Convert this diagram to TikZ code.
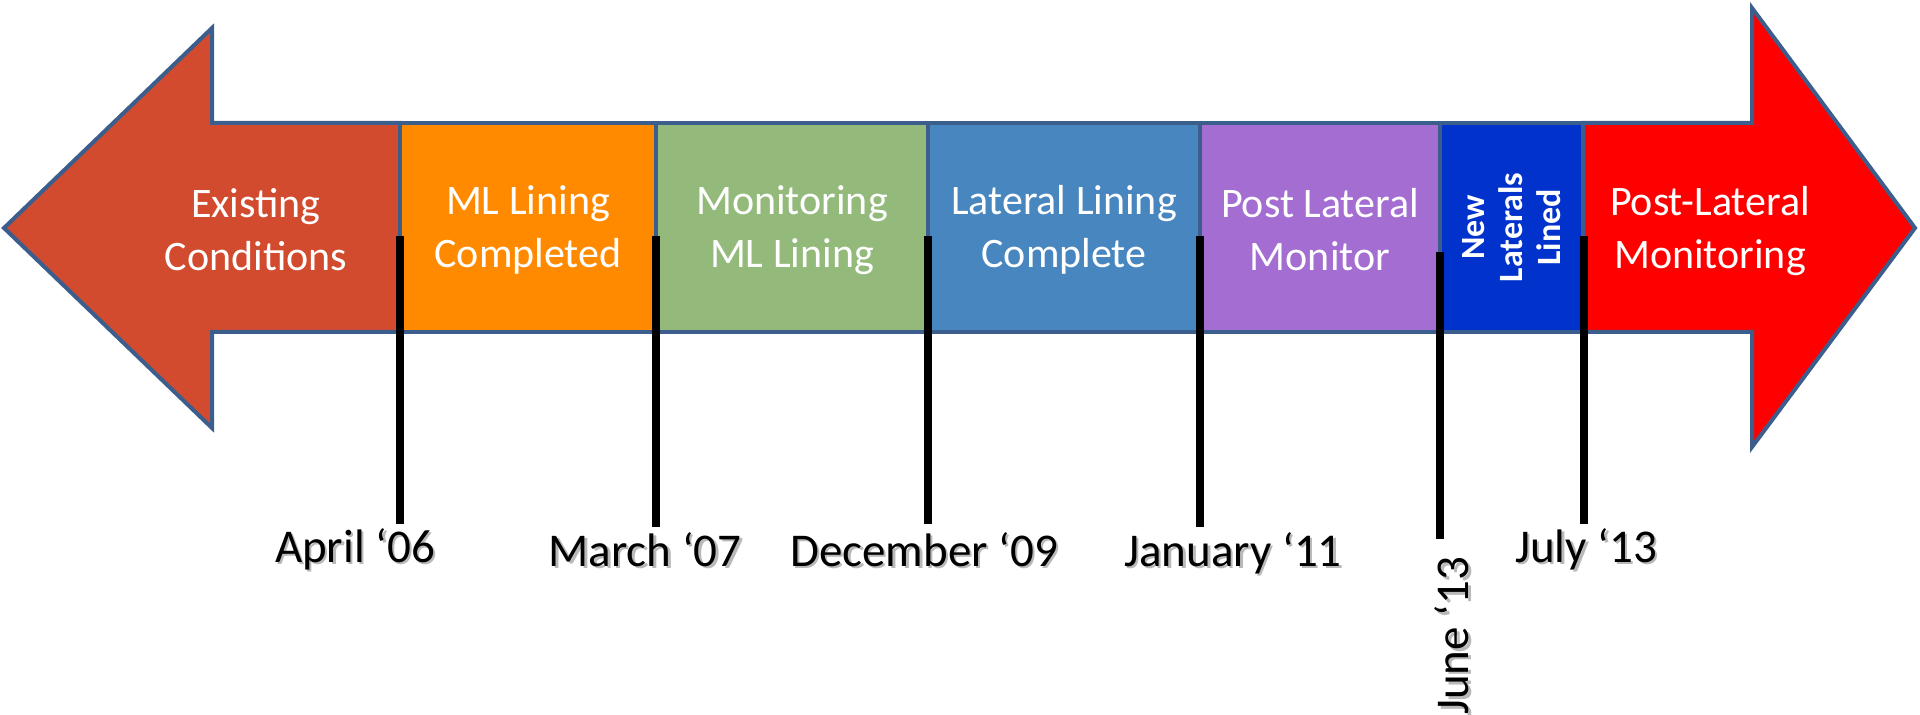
\documentclass[tikz,border=0pt]{standalone}
\usepackage{fontspec}
\setmainfont{Carlito}
\definecolor{edgeblue}{HTML}{3B5E8C}
\definecolor{startred}{HTML}{D24B2E}
\definecolor{mlorange}{HTML}{FF8A00}
\definecolor{mongreen}{HTML}{93BA7B}
\definecolor{latblue}{HTML}{4886C0}
\definecolor{postpurple}{HTML}{A46DD2}
\definecolor{newblue}{HTML}{0232CC}
\definecolor{endred}{HTML}{FF0000}
\begin{document}
\begin{tikzpicture}[x=0.5pt,y=-0.5pt,
  outline/.style={draw=edgeblue,line width=2pt,line join=miter},
  phase/.style={outline,minimum height=104.5pt,inner sep=0pt},
  phasetext/.style={inner sep=0pt,text=white,align=center,
    font=\fontsize{21}{26.5}\selectfont},
  tick/.style={line width=4pt,black},
  datelbl/.style={inner sep=0pt,font=\fontsize{23.5}{28}\selectfont},
  dateshadow/.style={datelbl,text=black!50,opacity=0.55}
]
\useasboundingbox (0,0) rectangle (1920,715);

% left and right arrow heads
\path[outline,fill=startred] (400,123) -- (212,123) -- (212,28) -- (4,228)
  -- (212,428) -- (212,332) -- (400,332) -- cycle;
\path[outline,fill=endred] (1583,123) -- (1752,123) -- (1752,8) -- (1915,228)
  -- (1752,447) -- (1752,332) -- (1583,332) -- cycle;
\node[phasetext] (exist) at (256,230) {Existing\\Conditions};
\node[phasetext] (postmon) at (1710,231) {Post-Lateral\\Monitoring};

% phase boxes along the shaft
\node[phase,fill=mlorange,minimum width=128pt] (ml) at (528,227.5) {};
\node[phase,fill=mongreen,minimum width=136pt] (mon) at (792,227.5) {};
\node[phase,fill=latblue,minimum width=136pt] (lat) at (1064,227.5) {};
\node[phase,fill=postpurple,minimum width=120pt] (post) at (1320,227.5) {};
\node[phase,fill=newblue,minimum width=71.5pt] (newl) at (1511.5,227.5) {};

\node[phasetext,yshift=-1.25pt] (mltxt) at (ml.center) {ML Lining\\Completed};
\node[phasetext,yshift=-1.25pt] (montxt) at (mon.center) {Monitoring\\ML Lining};
\node[phasetext,yshift=-1.25pt] (lattxt) at (lat.center) {Lateral Lining\\Complete};
\node[phasetext,yshift=-1.25pt] (posttxt) at (post.center) {Post Lateral\\Monitor};
\node[rotate=90,inner sep=0pt,text=white,align=center,
  font=\bfseries\fontsize{17}{19}\selectfont] (newtxt) at (newl.center) {New\\Laterals\\Lined};

% milestone ticks
\coordinate (t1a) at (400,236);  \coordinate (t1b) at (400,524);
\coordinate (t2a) at (656,236);  \coordinate (t2b) at (656,527);
\coordinate (t3a) at (928,236);  \coordinate (t3b) at (928,524);
\coordinate (t4a) at (1200,236); \coordinate (t4b) at (1200,527);
\coordinate (t5a) at (1440,252); \coordinate (t5b) at (1440,539);
\coordinate (t6a) at (1584,236); \coordinate (t6b) at (1584,524);
\foreach \k in {1,...,6}{\draw[tick] (t\k a) -- (t\k b);}

% milestone dates with a soft drop shadow
\node[dateshadow,anchor=base] (d1s) at (357.5,564.5) {April ‘06};
\node[datelbl,anchor=base] (d1) at (355,562) {April ‘06};
\node[dateshadow,anchor=base] (d2s) at (647.5,568.5) {March ‘07};
\node[datelbl,anchor=base] (d2) at (645,566) {March ‘07};
\node[dateshadow,anchor=base] (d3s) at (926.5,568.5) {December ‘09};
\node[datelbl,anchor=base] (d3) at (924,566) {December ‘09};
\node[dateshadow,anchor=base] (d4s) at (1235.5,568.5) {January ‘11};
\node[datelbl,anchor=base] (d4) at (1233,566) {January ‘11};
\node[dateshadow,rotate=90] (d5s) at (1454.5,638.5) {June ‘13};
\node[datelbl,rotate=90] (d5) at (1452,636) {June ‘13};
\node[dateshadow,anchor=base] (d6s) at (1588.5,564.5) {July ‘13};
\node[datelbl,anchor=base] (d6) at (1586,562) {July ‘13};
\end{tikzpicture}
\end{document}
